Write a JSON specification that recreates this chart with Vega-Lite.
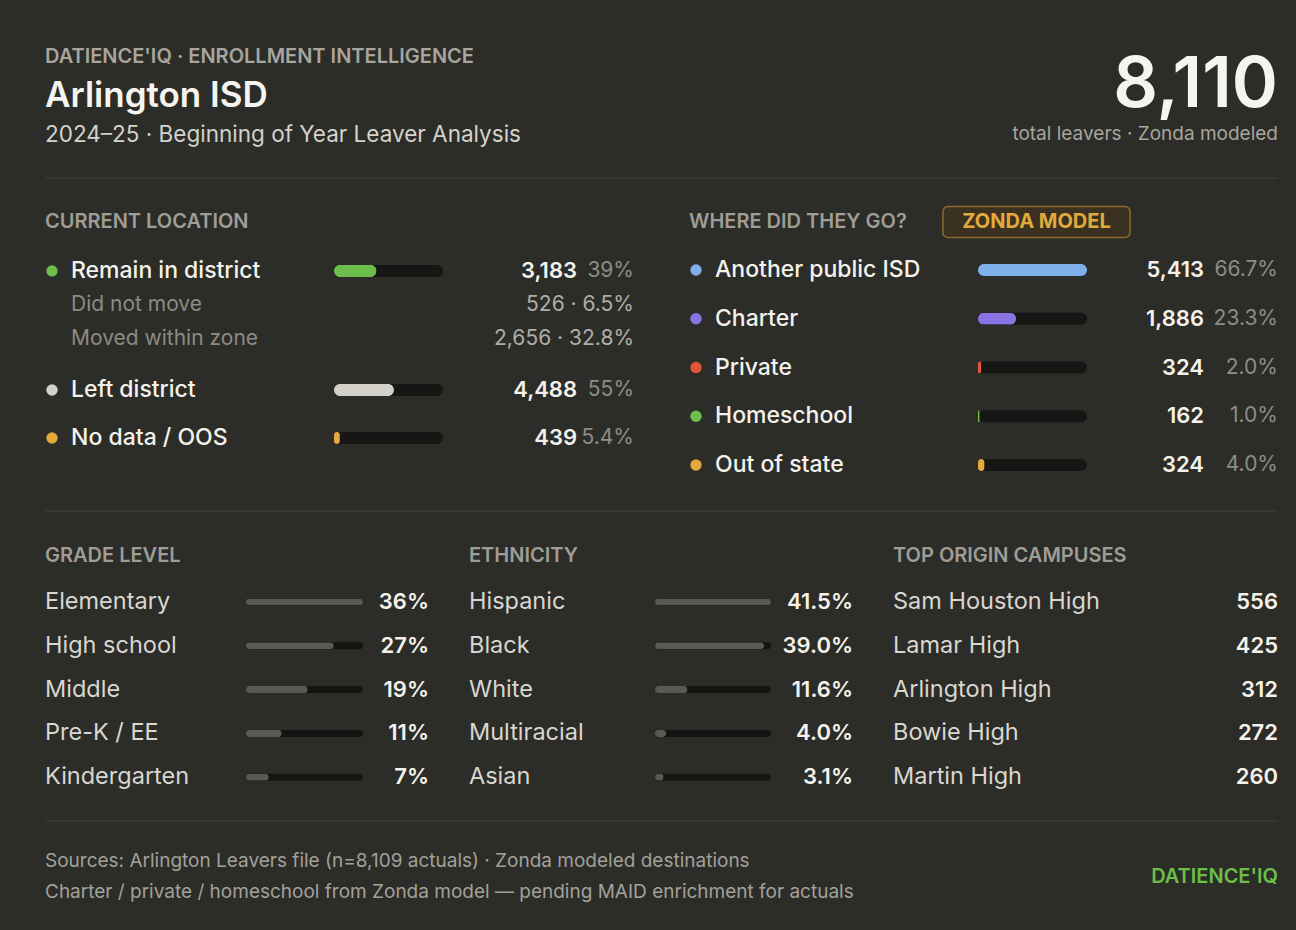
{
 "$schema": "https://vega.github.io/schema/vega-lite/v6.json",
 "background": "#2c2c29",
 "padding": {"left": 44, "top": 30, "right": 19, "bottom": 13},
 "config": {"view": {"stroke": null}, "font": "Inter", "concat": {"spacing": 0}},
 "datasets": {
  "header": [{"brand": "DATIENCE'IQ · ENROLLMENT INTELLIGENCE", "district": "Arlington ISD", "period": "2024–25 · Beginning of Year Leaver Analysis"}],
  "kpi": [{"total_leavers": 8110, "note": "total leavers · Zonda modeled"}],
  "location": [
   {"category": "Remain in district", "parent": null, "count": 3183, "share": 0.39, "share_label": "39%", "summary": "3,183 · 39%"},
   {"category": "Did not move", "parent": "Remain in district", "count": 526, "share": 0.065, "share_label": "6.5%", "summary": "526 · 6.5%"},
   {"category": "Moved within zone", "parent": "Remain in district", "count": 2656, "share": 0.328, "share_label": "32.8%", "summary": "2,656 · 32.8%"},
   {"category": "Left district", "parent": null, "count": 4488, "share": 0.55, "share_label": "55%", "summary": "4,488 · 55%"},
   {"category": "No data / OOS", "parent": null, "count": 439, "share": 0.054, "share_label": "5.4%", "summary": "439 · 5.4%"}
  ],
  "destinations": [
   {"category": "Another public ISD", "count": 5413, "share": 0.667, "share_label": "66.7%"},
   {"category": "Charter", "count": 1886, "share": 0.233, "share_label": "23.3%"},
   {"category": "Private", "count": 324, "share": 0.02, "share_label": "2.0%"},
   {"category": "Homeschool", "count": 162, "share": 0.01, "share_label": "1.0%"},
   {"category": "Out of state", "count": 324, "share": 0.04, "share_label": "4.0%"}
  ],
  "grade": [
   {"level": "Elementary", "share": 0.36},
   {"level": "High school", "share": 0.27},
   {"level": "Middle", "share": 0.19},
   {"level": "Pre-K / EE", "share": 0.11},
   {"level": "Kindergarten", "share": 0.07}
  ],
  "ethnicity": [
   {"group": "Hispanic", "share": 0.415},
   {"group": "Black", "share": 0.39},
   {"group": "White", "share": 0.116},
   {"group": "Multiracial", "share": 0.04},
   {"group": "Asian", "share": 0.031}
  ],
  "campuses": [
   {"campus": "Sam Houston High", "leavers": 556},
   {"campus": "Lamar High", "leavers": 425},
   {"campus": "Arlington High", "leavers": 312},
   {"campus": "Bowie High", "leavers": 272},
   {"campus": "Martin High", "leavers": 260}
  ],
  "footer": [
   {"line": "Sources: Arlington Leavers file (n=8,109 actuals) · Zonda modeled destinations"},
   {"line": "Charter / private / homeschool from Zonda model — pending MAID enrichment for actuals"}
  ]
 },
 "spacing": 0,
 "resolve": {"scale": {"color": "independent"}},
 "vconcat": [
  {"spacing": 0, "bounds": "flush", "hconcat": [
   {"width": 700, "height": 125, "data": {"name": "header"},
    "layer": [
     {"mark": {"type": "text", "align": "left", "fontSize": 20, "fontWeight": 600, "color": "#a7a59e"},
      "encoding": {"x": {"datum": 0, "type": "quantitative", "axis": null, "scale": {"domain": [0, 1], "nice": false}},
       "y": {"datum": "brand", "type": "nominal", "axis": null, "scale": {"type": "band", "domain": ["brand", "district", "period"], "paddingInner": 0, "paddingOuter": 0.10256, "align": 1}},
       "text": {"field": "brand"}}},
     {"mark": {"type": "text", "align": "left", "fontSize": 35, "fontWeight": 600, "color": "#f6f4ee"},
      "encoding": {"x": {"datum": 0, "type": "quantitative", "axis": null, "scale": {"domain": [0, 1], "nice": false}},
       "y": {"datum": "district", "type": "nominal", "axis": null, "scale": {"type": "band", "domain": ["brand", "district", "period"], "paddingInner": 0, "paddingOuter": 0.10256, "align": 1}},
       "text": {"field": "district"}}},
     {"mark": {"type": "text", "align": "left", "fontSize": 22.5, "fontWeight": 400, "color": "#d4d2ca"},
      "encoding": {"x": {"datum": 0, "type": "quantitative", "axis": null, "scale": {"domain": [0, 1], "nice": false}},
       "y": {"datum": "period", "type": "nominal", "axis": null, "scale": {"type": "band", "domain": ["brand", "district", "period"], "paddingInner": 0, "paddingOuter": 0.10256, "align": 1}},
       "text": {"field": "period"}}}
    ]},
   {"width": 533, "height": 125, "data": {"name": "kpi"},
    "layer": [
     {"mark": {"type": "text", "align": "right", "fontSize": 70, "fontWeight": 600, "color": "#f6f4ee"},
      "encoding": {"x": {"datum": 1, "type": "quantitative", "axis": null, "scale": {"domain": [0, 1], "nice": false}},
       "y": {"datum": "total", "type": "nominal", "axis": null, "scale": {"type": "band", "domain": ["total", "note"], "paddingInner": 0.5, "paddingOuter": 0.552, "align": 0.83}},
       "text": {"field": "total_leavers", "type": "quantitative", "format": ","}}},
     {"mark": {"type": "text", "align": "right", "fontSize": 19, "fontWeight": 400, "color": "#a7a59e"},
      "encoding": {"x": {"datum": 1, "type": "quantitative", "axis": null, "scale": {"domain": [0, 1], "nice": false}},
       "y": {"datum": "note", "type": "nominal", "axis": null, "scale": {"type": "band", "domain": ["total", "note"], "paddingInner": 0.5, "paddingOuter": 0.552, "align": 0.83}},
       "text": {"field": "note"}}}
    ]}
  ]},
  {"width": 1233, "height": 46, "data": {"values": [{"divider": "header"}]},
   "mark": {"type": "rule", "color": "#42423d", "strokeWidth": 1},
   "encoding": {"x": {"datum": 0, "type": "quantitative", "axis": null, "scale": {"domain": [0, 1], "nice": false}}, "x2": {"datum": 1}}},
  {"spacing": 55, "resolve": {"scale": {"color": "independent"}}, "hconcat": [
   {"spacing": 0, "vconcat": [
    {"width": 589, "height": 42, "data": {"values": [{"section": "CURRENT LOCATION"}]},
     "mark": {"type": "text", "align": "left", "fontSize": 20, "fontWeight": 600, "color": "#9f9d96"},
     "encoding": {"x": {"datum": 0, "type": "quantitative", "axis": null, "scale": {"domain": [0, 1], "nice": false}}, "text": {"field": "section"}}},
    {"spacing": 0, "bounds": "flush", "hconcat": [
     {"width": 14, "height": 123, "data": {"name": "location"},
      "transform": [{"filter": {"field": "category", "equal": "Remain in district"}}],
      "mark": {"type": "circle", "size": 130, "opacity": 1},
      "encoding": {
       "y": {"field": "category", "type": "nominal", "axis": null, "sort": null, "scale": {"type": "band", "domain": ["Remain in district", "Did not move", "Moved within zone"], "paddingInner": 0, "paddingOuter": 0.3088, "align": 0.52}},
       "color": {"field": "category", "type": "nominal", "legend": null, "scale": {"domain": ["Remain in district", "Left district", "No data / OOS"], "range": ["#6cbf4a", "#d3d1c9", "#e5a83b"]}}}},
     {"width": 275, "height": 123, "data": {"name": "location"},
      "encoding": {
       "x": {"datum": 0, "type": "quantitative", "axis": null, "scale": {"domain": [0, 1], "nice": false}},
       "y": {"field": "category", "type": "nominal", "axis": null, "sort": null, "scale": {"type": "band", "domain": ["Remain in district", "Did not move", "Moved within zone"], "paddingInner": 0, "paddingOuter": 0.3088, "align": 0.52}},
       "text": {"field": "category"}},
      "layer": [
       {"transform": [{"filter": {"field": "category", "equal": "Remain in district"}}],
        "mark": {"type": "text", "align": "left", "dx": 12, "fontSize": 23, "fontWeight": 500, "color": "#f4f2ea"}},
       {"transform": [{"filter": {"field": "parent", "equal": "Remain in district"}}],
        "mark": {"type": "text", "align": "left", "dx": 12, "fontSize": 21, "fontWeight": 400, "color": "#8d8b84"}}
      ]},
     {"width": 109, "height": 123, "data": {"name": "location"},
      "transform": [{"filter": {"field": "category", "equal": "Remain in district"}}],
      "encoding": {"y": {"field": "category", "type": "nominal", "axis": null, "sort": null, "scale": {"type": "band", "domain": ["Remain in district", "Did not move", "Moved within zone"], "paddingInner": 0, "paddingOuter": 0.3088, "align": 0.52}}},
      "layer": [
       {"mark": {"type": "bar", "height": 12, "cornerRadius": 6, "color": "#161614"},
        "encoding": {"x": {"datum": 1, "type": "quantitative", "axis": null, "scale": {"domain": [0, 1], "nice": false}}}},
       {"mark": {"type": "bar", "height": 12, "cornerRadius": 6},
        "encoding": {"x": {"field": "share", "type": "quantitative", "axis": null, "scale": {"domain": [0, 1], "nice": false}},
         "color": {"field": "category", "type": "nominal", "legend": null, "scale": {"domain": ["Remain in district", "Left district", "No data / OOS"], "range": ["#6cbf4a", "#d3d1c9", "#e5a83b"]}}}}
      ]},
     {"width": 134, "height": 123, "data": {"name": "location"},
      "transform": [{"filter": {"field": "category", "equal": "Remain in district"}}],
      "mark": {"type": "text", "align": "right", "fontSize": 22, "fontWeight": 600, "color": "#f4f2ea"},
      "encoding": {
       "x": {"datum": 1, "type": "quantitative", "axis": null, "scale": {"domain": [0, 1], "nice": false}},
       "y": {"field": "category", "type": "nominal", "axis": null, "sort": null, "scale": {"type": "band", "domain": ["Remain in district", "Did not move", "Moved within zone"], "paddingInner": 0, "paddingOuter": 0.3088, "align": 0.52}},
       "text": {"field": "count", "type": "quantitative", "format": ","}}},
     {"width": 57, "height": 123, "data": {"name": "location"},
      "encoding": {
       "x": {"datum": 1, "type": "quantitative", "axis": null, "scale": {"domain": [0, 1], "nice": false}},
       "y": {"field": "category", "type": "nominal", "axis": null, "sort": null, "scale": {"type": "band", "domain": ["Remain in district", "Did not move", "Moved within zone"], "paddingInner": 0, "paddingOuter": 0.3088, "align": 0.52}}},
      "layer": [
       {"transform": [{"filter": {"field": "category", "equal": "Remain in district"}}],
        "mark": {"type": "text", "align": "right", "fontSize": 21, "fontWeight": 400, "color": "#8e8c85"},
        "encoding": {"text": {"field": "share_label"}}},
       {"transform": [{"filter": {"field": "parent", "equal": "Remain in district"}}],
        "mark": {"type": "text", "align": "right", "fontSize": 21, "fontWeight": 400, "color": "#b0aea6"},
        "encoding": {"text": {"field": "summary"}}}
      ]}
    ]},
    {"spacing": 0, "bounds": "flush", "hconcat": [
     {"width": 14, "height": 96, "data": {"name": "location"},
      "transform": [{"filter": {"field": "category", "oneOf": ["Left district", "No data / OOS"]}}],
      "mark": {"type": "circle", "size": 130, "opacity": 1},
      "encoding": {
       "y": {"field": "category", "type": "nominal", "axis": null, "sort": null, "scale": {"type": "band", "domain": ["Left district", "No data / OOS"], "paddingInner": 0, "paddingOuter": 0, "align": 0.5}},
       "color": {"field": "category", "type": "nominal", "legend": null, "scale": {"domain": ["Remain in district", "Left district", "No data / OOS"], "range": ["#6cbf4a", "#d3d1c9", "#e5a83b"]}}}},
     {"width": 275, "height": 96, "data": {"name": "location"},
      "transform": [{"filter": {"field": "category", "oneOf": ["Left district", "No data / OOS"]}}],
      "mark": {"type": "text", "align": "left", "dx": 12, "fontSize": 23, "fontWeight": 500, "color": "#f4f2ea"},
      "encoding": {
       "x": {"datum": 0, "type": "quantitative", "axis": null, "scale": {"domain": [0, 1], "nice": false}},
       "y": {"field": "category", "type": "nominal", "axis": null, "sort": null, "scale": {"type": "band", "domain": ["Left district", "No data / OOS"], "paddingInner": 0, "paddingOuter": 0, "align": 0.5}},
       "text": {"field": "category"}}},
     {"width": 109, "height": 96, "data": {"name": "location"},
      "transform": [{"filter": {"field": "category", "oneOf": ["Left district", "No data / OOS"]}}],
      "encoding": {"y": {"field": "category", "type": "nominal", "axis": null, "sort": null, "scale": {"type": "band", "domain": ["Left district", "No data / OOS"], "paddingInner": 0, "paddingOuter": 0, "align": 0.5}}},
      "layer": [
       {"mark": {"type": "bar", "height": 12, "cornerRadius": 6, "color": "#161614"},
        "encoding": {"x": {"datum": 1, "type": "quantitative", "axis": null, "scale": {"domain": [0, 1], "nice": false}}}},
       {"mark": {"type": "bar", "height": 12, "cornerRadius": 6},
        "encoding": {"x": {"field": "share", "type": "quantitative", "axis": null, "scale": {"domain": [0, 1], "nice": false}},
         "color": {"field": "category", "type": "nominal", "legend": null, "scale": {"domain": ["Remain in district", "Left district", "No data / OOS"], "range": ["#6cbf4a", "#d3d1c9", "#e5a83b"]}}}}
      ]},
     {"width": 134, "height": 96, "data": {"name": "location"},
      "transform": [{"filter": {"field": "category", "oneOf": ["Left district", "No data / OOS"]}}],
      "mark": {"type": "text", "align": "right", "fontSize": 22, "fontWeight": 600, "color": "#f4f2ea"},
      "encoding": {
       "x": {"datum": 1, "type": "quantitative", "axis": null, "scale": {"domain": [0, 1], "nice": false}},
       "y": {"field": "category", "type": "nominal", "axis": null, "sort": null, "scale": {"type": "band", "domain": ["Left district", "No data / OOS"], "paddingInner": 0, "paddingOuter": 0, "align": 0.5}},
       "text": {"field": "count", "type": "quantitative", "format": ","}}},
     {"width": 57, "height": 96, "data": {"name": "location"},
      "transform": [{"filter": {"field": "category", "oneOf": ["Left district", "No data / OOS"]}}],
      "mark": {"type": "text", "align": "right", "fontSize": 21, "fontWeight": 400, "color": "#8e8c85"},
      "encoding": {
       "x": {"datum": 1, "type": "quantitative", "axis": null, "scale": {"domain": [0, 1], "nice": false}},
       "y": {"field": "category", "type": "nominal", "axis": null, "sort": null, "scale": {"type": "band", "domain": ["Left district", "No data / OOS"], "paddingInner": 0, "paddingOuter": 0, "align": 0.5}},
       "text": {"field": "share_label"}}}
    ]}
   ]},
   {"spacing": 0, "vconcat": [
    {"spacing": 0, "hconcat": [
     {"width": 253, "height": 42, "data": {"values": [{"section": "WHERE DID THEY GO?"}]},
      "mark": {"type": "text", "align": "left", "fontSize": 20, "fontWeight": 600, "color": "#9f9d96"},
      "encoding": {"x": {"datum": 0, "type": "quantitative", "axis": null, "scale": {"domain": [0, 1], "nice": false}}, "text": {"field": "section"}}},
     {"width": 189, "height": 42, "data": {"values": [{"tag": "ZONDA MODEL"}]},
      "encoding": {"y": {"field": "tag", "type": "nominal", "axis": null, "scale": {"type": "band", "paddingInner": 0, "paddingOuter": 0}}},
      "layer": [
       {"mark": {"type": "bar", "height": 31, "cornerRadius": 5, "fill": "#3a3121", "stroke": "#8d6b2b", "strokeWidth": 1.5},
        "encoding": {"x": {"datum": 0.005, "type": "quantitative", "axis": null, "scale": {"domain": [0, 1], "nice": false}}, "x2": {"datum": 0.995}}},
       {"mark": {"type": "text", "fontSize": 20, "fontWeight": 700, "color": "#e2aa3d"},
        "encoding": {"text": {"field": "tag"}}}
      ]}
    ]},
    {"spacing": 0, "bounds": "flush", "hconcat": [
     {"width": 14, "height": 254, "data": {"name": "destinations"},
      "mark": {"type": "circle", "size": 130, "opacity": 1},
      "encoding": {
       "y": {"field": "category", "type": "nominal", "axis": null, "sort": null, "scale": {"type": "band", "paddingInner": 0, "paddingOuter": 0.10513, "align": 0.2561}},
       "color": {"field": "category", "type": "nominal", "legend": null, "scale": {"domain": ["Another public ISD", "Charter", "Private", "Homeschool", "Out of state"], "range": ["#7fb0ea", "#8a73e3", "#e2563a", "#6cbf4a", "#e5a83b"]}}}},
     {"width": 275, "height": 254, "data": {"name": "destinations"},
      "mark": {"type": "text", "align": "left", "dx": 12, "fontSize": 23, "fontWeight": 500, "color": "#f4f2ea"},
      "encoding": {
       "x": {"datum": 0, "type": "quantitative", "axis": null, "scale": {"domain": [0, 1], "nice": false}},
       "y": {"field": "category", "type": "nominal", "axis": null, "sort": null, "scale": {"type": "band", "paddingInner": 0, "paddingOuter": 0.10513, "align": 0.2561}},
       "text": {"field": "category"}}},
     {"width": 109, "height": 254, "data": {"name": "destinations"},
      "encoding": {"y": {"field": "category", "type": "nominal", "axis": null, "sort": null, "scale": {"type": "band", "paddingInner": 0, "paddingOuter": 0.10513, "align": 0.2561}}},
      "layer": [
       {"mark": {"type": "bar", "height": 12, "cornerRadius": 6, "color": "#161614"},
        "encoding": {"x": {"datum": 0.667, "type": "quantitative", "axis": null, "scale": {"domain": [0, 0.667], "nice": false}}}},
       {"mark": {"type": "bar", "height": 12, "cornerRadius": 6},
        "encoding": {"x": {"field": "share", "type": "quantitative", "axis": null, "scale": {"domain": [0, 0.667], "nice": false}},
         "color": {"field": "category", "type": "nominal", "legend": null, "scale": {"domain": ["Another public ISD", "Charter", "Private", "Homeschool", "Out of state"], "range": ["#7fb0ea", "#8a73e3", "#e2563a", "#6cbf4a", "#e5a83b"]}}}}
      ]},
     {"width": 117, "height": 254, "data": {"name": "destinations"},
      "mark": {"type": "text", "align": "right", "fontSize": 22, "fontWeight": 600, "color": "#f4f2ea"},
      "encoding": {
       "x": {"datum": 1, "type": "quantitative", "axis": null, "scale": {"domain": [0, 1], "nice": false}},
       "y": {"field": "category", "type": "nominal", "axis": null, "sort": null, "scale": {"type": "band", "paddingInner": 0, "paddingOuter": 0.10513, "align": 0.2561}},
       "text": {"field": "count", "type": "quantitative", "format": ","}}},
     {"width": 74, "height": 254, "data": {"name": "destinations"},
      "mark": {"type": "text", "align": "right", "fontSize": 21, "fontWeight": 400, "color": "#8e8c85"},
      "encoding": {
       "x": {"datum": 1, "type": "quantitative", "axis": null, "scale": {"domain": [0, 1], "nice": false}},
       "y": {"field": "category", "type": "nominal", "axis": null, "sort": null, "scale": {"type": "band", "paddingInner": 0, "paddingOuter": 0.10513, "align": 0.2561}},
       "text": {"field": "share_label"}}}
    ]}
   ]}
  ]},
  {"width": 1233, "height": 28, "data": {"values": [{"divider": "middle"}]},
   "mark": {"type": "rule", "color": "#42423d", "strokeWidth": 1},
   "encoding": {"x": {"datum": 0, "type": "quantitative", "axis": null, "scale": {"domain": [0, 1], "nice": false}}, "x2": {"datum": 1}}},
  {"spacing": 40, "hconcat": [
   {"spacing": 0, "vconcat": [
    {"width": 384, "height": 62, "data": {"values": [{"section": "GRADE LEVEL"}]},
     "mark": {"type": "text", "align": "left", "fontSize": 20, "fontWeight": 600, "color": "#9f9d96"},
     "encoding": {"x": {"datum": 0, "type": "quantitative", "axis": null, "scale": {"domain": [0, 1], "nice": false}}, "text": {"field": "section"}}},
    {"spacing": 0, "bounds": "flush", "hconcat": [
     {"width": 201, "height": 218, "data": {"name": "grade"},
      "mark": {"type": "text", "align": "left", "fontSize": 23.5, "fontWeight": 400, "color": "#d9d7cf"},
      "encoding": {
       "x": {"datum": 0, "type": "quantitative", "axis": null, "scale": {"domain": [0, 1], "nice": false}},
       "y": {"field": "level", "type": "nominal", "axis": null, "sort": null, "scale": {"type": "band", "paddingInner": 0.5, "paddingOuter": 0.2386, "align": 0.1938}},
       "text": {"field": "level"}}},
     {"width": 117, "height": 218, "data": {"name": "grade"},
      "encoding": {"y": {"field": "level", "type": "nominal", "axis": null, "sort": null, "scale": {"type": "band", "paddingInner": 0.5, "paddingOuter": 0.2386, "align": 0.1938}}},
      "layer": [
       {"mark": {"type": "bar", "height": 7, "cornerRadius": 3.5, "color": "#141412"},
        "encoding": {"x": {"datum": 0.36, "type": "quantitative", "axis": null, "scale": {"domain": [0, 0.36], "nice": false}}}},
       {"mark": {"type": "bar", "height": 7, "cornerRadius": 3.5, "color": "#5a5955"},
        "encoding": {"x": {"field": "share", "type": "quantitative", "axis": null, "scale": {"domain": [0, 0.36], "nice": false}}}}
      ]},
     {"width": 66, "height": 218, "data": {"name": "grade"},
      "mark": {"type": "text", "align": "right", "fontSize": 22, "fontWeight": 600, "color": "#f4f2ea"},
      "encoding": {
       "x": {"datum": 1, "type": "quantitative", "axis": null, "scale": {"domain": [0, 1], "nice": false}},
       "y": {"field": "level", "type": "nominal", "axis": null, "sort": null, "scale": {"type": "band", "paddingInner": 0.5, "paddingOuter": 0.2386, "align": 0.1938}},
       "text": {"field": "share", "type": "quantitative", "format": ".0%"}}}
    ]}
   ]},
   {"spacing": 0, "vconcat": [
    {"width": 384, "height": 62, "data": {"values": [{"section": "ETHNICITY"}]},
     "mark": {"type": "text", "align": "left", "fontSize": 20, "fontWeight": 600, "color": "#9f9d96"},
     "encoding": {"x": {"datum": 0, "type": "quantitative", "axis": null, "scale": {"domain": [0, 1], "nice": false}}, "text": {"field": "section"}}},
    {"spacing": 0, "bounds": "flush", "hconcat": [
     {"width": 186, "height": 218, "data": {"name": "ethnicity"},
      "mark": {"type": "text", "align": "left", "fontSize": 23.5, "fontWeight": 400, "color": "#d9d7cf"},
      "encoding": {
       "x": {"datum": 0, "type": "quantitative", "axis": null, "scale": {"domain": [0, 1], "nice": false}},
       "y": {"field": "group", "type": "nominal", "axis": null, "sort": null, "scale": {"type": "band", "paddingInner": 0.5, "paddingOuter": 0.2386, "align": 0.1938}},
       "text": {"field": "group"}}},
     {"width": 116, "height": 218, "data": {"name": "ethnicity"},
      "encoding": {"y": {"field": "group", "type": "nominal", "axis": null, "sort": null, "scale": {"type": "band", "paddingInner": 0.5, "paddingOuter": 0.2386, "align": 0.1938}}},
      "layer": [
       {"mark": {"type": "bar", "height": 7, "cornerRadius": 3.5, "color": "#141412"},
        "encoding": {"x": {"datum": 0.415, "type": "quantitative", "axis": null, "scale": {"domain": [0, 0.415], "nice": false}}}},
       {"mark": {"type": "bar", "height": 7, "cornerRadius": 3.5, "color": "#5a5955"},
        "encoding": {"x": {"field": "share", "type": "quantitative", "axis": null, "scale": {"domain": [0, 0.415], "nice": false}}}}
      ]},
     {"width": 82, "height": 218, "data": {"name": "ethnicity"},
      "mark": {"type": "text", "align": "right", "fontSize": 22, "fontWeight": 600, "color": "#f4f2ea"},
      "encoding": {
       "x": {"datum": 1, "type": "quantitative", "axis": null, "scale": {"domain": [0, 1], "nice": false}},
       "y": {"field": "group", "type": "nominal", "axis": null, "sort": null, "scale": {"type": "band", "paddingInner": 0.5, "paddingOuter": 0.2386, "align": 0.1938}},
       "text": {"field": "share", "type": "quantitative", "format": ".1%"}}}
    ]}
   ]},
   {"spacing": 0, "bounds": "flush", "vconcat": [
    {"width": 385, "height": 62, "data": {"values": [{"section": "TOP ORIGIN CAMPUSES"}]},
     "mark": {"type": "text", "align": "left", "fontSize": 20, "fontWeight": 600, "color": "#9f9d96"},
     "encoding": {"x": {"datum": 0, "type": "quantitative", "axis": null, "scale": {"domain": [0, 1], "nice": false}}, "text": {"field": "section"}}},
    {"width": 385, "height": 218, "data": {"name": "campuses"},
     "encoding": {"y": {"field": "campus", "type": "nominal", "axis": null, "sort": null, "scale": {"type": "band", "paddingInner": 0.5, "paddingOuter": 0.2386, "align": 0.1938}}},
     "layer": [
      {"mark": {"type": "text", "align": "left", "fontSize": 23.5, "fontWeight": 400, "color": "#d9d7cf"},
       "encoding": {"x": {"datum": 0, "type": "quantitative", "axis": null, "scale": {"domain": [0, 1], "nice": false}}, "text": {"field": "campus"}}},
      {"mark": {"type": "text", "align": "right", "fontSize": 22, "fontWeight": 600, "color": "#f4f2ea"},
       "encoding": {"x": {"datum": 1, "type": "quantitative", "axis": null, "scale": {"domain": [0, 1], "nice": false}}, "text": {"field": "leavers", "type": "quantitative", "format": "d"}}}
     ]}
   ]}
  ]},
  {"width": 1233, "height": 32, "data": {"values": [{"divider": "footer"}]},
   "mark": {"type": "rule", "color": "#42423d", "strokeWidth": 1},
   "encoding": {"x": {"datum": 0, "type": "quantitative", "axis": null, "scale": {"domain": [0, 1], "nice": false}}, "x2": {"datum": 1}}},
  {"spacing": 0, "bounds": "flush", "hconcat": [
   {"width": 900, "height": 80, "data": {"name": "footer"},
    "mark": {"type": "text", "align": "left", "fontSize": 19, "fontWeight": 400, "color": "#a3a19a"},
    "encoding": {
     "x": {"datum": 0, "type": "quantitative", "axis": null, "scale": {"domain": [0, 1], "nice": false}},
     "y": {"field": "line", "type": "nominal", "axis": null, "sort": null, "scale": {"type": "band", "paddingInner": 0, "paddingOuter": 0.2903, "align": 0.4722}},
     "text": {"field": "line"}}},
   {"width": 333, "height": 80, "data": {"values": [{"brand": "DATIENCE'IQ"}]},
    "mark": {"type": "text", "align": "right", "fontSize": 20, "fontWeight": 600, "color": "#6cbf46"},
    "encoding": {"x": {"datum": 1, "type": "quantitative", "axis": null, "scale": {"domain": [0, 1], "nice": false}}, "text": {"field": "brand"}}}
  ]}
 ]
}
